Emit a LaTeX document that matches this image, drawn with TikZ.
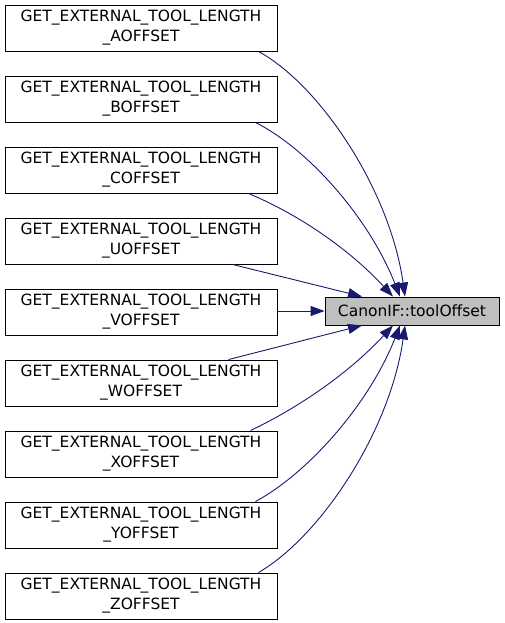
\documentclass[tikz,border=0pt]{standalone}
\usepackage{fontspec}
\setmainfont{DejaVu Sans}
\usetikzlibrary{arrows.meta}
\definecolor{edgeblue}{HTML}{191970}
\definecolor{hl}{HTML}{BFBFBF}
\tikzset{
  caller/.style={draw=black, line width=0.9pt, fill=white, minimum width=272pt, minimum height=46pt, inner sep=0pt, align=center, font=\fontsize{15.5pt}{20pt}\selectfont},
  target/.style={draw=black, line width=0.9pt, fill=hl, minimum width=174pt, minimum height=28pt, inner sep=0pt, font=\fontsize{15.5pt}{20pt}\selectfont},
  edge/.style={draw=edgeblue, line width=0.9pt, -{Triangle[length=14pt,width=10pt,fill=edgeblue]}}
}
\begin{document}
\begin{tikzpicture}[x=1pt,y=-1pt]
\useasboundingbox (0,0) rectangle (505,623);
\node[target] (T) at (412,311) {CanonIF::toolOffset};
\node[caller] (A) at (141,28) {GET\_EXTERNAL\_TOOL\_LENGTH\\\_AOFFSET};
\node[caller] (B) at (141,99) {GET\_EXTERNAL\_TOOL\_LENGTH\\\_BOFFSET};
\node[caller] (C) at (141,170) {GET\_EXTERNAL\_TOOL\_LENGTH\\\_COFFSET};
\node[caller] (U) at (141,241) {GET\_EXTERNAL\_TOOL\_LENGTH\\\_UOFFSET};
\node[caller] (V) at (141,312) {GET\_EXTERNAL\_TOOL\_LENGTH\\\_VOFFSET};
\node[caller] (W) at (141,383) {GET\_EXTERNAL\_TOOL\_LENGTH\\\_WOFFSET};
\node[caller] (X) at (141,454) {GET\_EXTERNAL\_TOOL\_LENGTH\\\_XOFFSET};
\node[caller] (Y) at (141,525) {GET\_EXTERNAL\_TOOL\_LENGTH\\\_YOFFSET};
\node[caller] (Z) at (141,596) {GET\_EXTERNAL\_TOOL\_LENGTH\\\_ZOFFSET};
% upper edges
\draw[edge] ([xshift=-19pt]A.south east) .. controls (320,85) and (390,190) .. ([xshift=-7pt]T.north);
\draw[edge] ([xshift=-22pt]B.south east) .. controls (310,150) and (370,220) .. ([xshift=-12pt]T.north);
\draw[edge] ([xshift=-29pt]C.south east) .. controls (300,215) and (350,250) .. ([xshift=-19pt]T.north);
\draw[edge] ([xshift=-45pt]U.south east) -- ([xshift=-50pt]T.north);
\draw[edge] (V.east |- T.west) -- (T.west);
% lower edges
\draw[edge] ([xshift=-49pt]W.north east) -- ([xshift=-50pt]T.south);
\draw[edge] ([xshift=-27pt]X.north east) .. controls (300,407) and (350,372) .. ([xshift=-19pt]T.south);
\draw[edge] ([xshift=-22pt]Y.north east) .. controls (310,472) and (370,402) .. ([xshift=-12pt]T.south);
\draw[edge] ([xshift=-19pt]Z.north east) .. controls (320,537) and (390,432) .. ([xshift=-7pt]T.south);
\end{tikzpicture}
\end{document}
